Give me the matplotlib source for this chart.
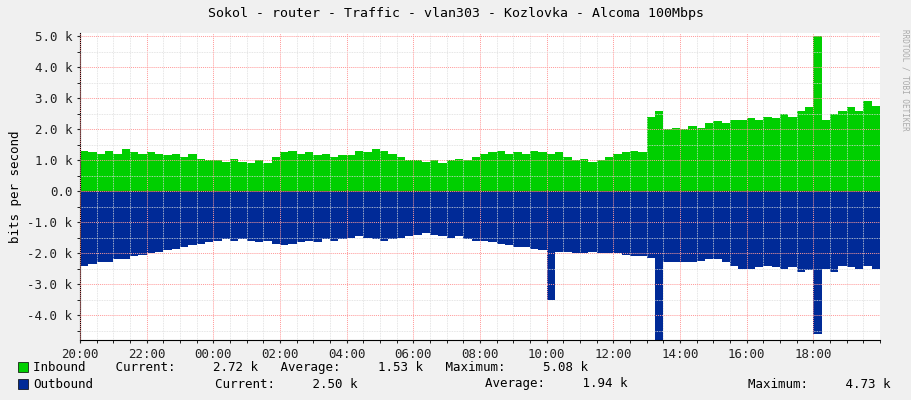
import numpy as np
import matplotlib
matplotlib.use("Agg")
import matplotlib.pyplot as plt
from matplotlib.ticker import MultipleLocator

# 15 minute samples from 20:00, in k bits per second
inbound = [1.3, 1.25, 1.2, 1.3, 1.2, 1.35, 1.25, 1.2,
           1.25, 1.2, 1.15, 1.2, 1.1, 1.2, 1.05, 1.0,
           1.0, 0.95, 1.05, 0.95, 0.9, 1.0, 0.9, 1.1,
           1.25, 1.3, 1.2, 1.25, 1.15, 1.2, 1.1, 1.15,
           1.15, 1.3, 1.25, 1.35, 1.3, 1.2, 1.1, 1.0,
           1.0, 0.95, 1.0, 0.9, 1.0, 1.05, 1.0, 1.1,
           1.2, 1.25, 1.3, 1.2, 1.25, 1.2, 1.3, 1.25,
           1.2, 1.25, 1.1, 1.0, 1.05, 0.95, 1.0, 1.1,
           1.2, 1.25, 1.3, 1.25, 2.4, 2.6, 2.0, 2.05,
           2.0, 2.1, 2.05, 2.2, 2.25, 2.2, 2.3, 2.3,
           2.35, 2.3, 2.4, 2.35, 2.5, 2.4, 2.6, 2.7,
           5.0, 2.3, 2.5, 2.6, 2.7, 2.6, 2.9, 2.75]
outbound = [-2.4, -2.35, -2.3, -2.3, -2.2, -2.2, -2.1, -2.05,
            -2.0, -1.95, -1.9, -1.85, -1.8, -1.75, -1.7, -1.65,
            -1.6, -1.55, -1.6, -1.55, -1.6, -1.65, -1.6, -1.7,
            -1.75, -1.7, -1.65, -1.6, -1.65, -1.55, -1.6, -1.55,
            -1.5, -1.45, -1.5, -1.55, -1.6, -1.55, -1.5, -1.45,
            -1.4, -1.35, -1.4, -1.45, -1.5, -1.45, -1.55, -1.6,
            -1.6, -1.65, -1.7, -1.75, -1.8, -1.8, -1.85, -1.9,
            -3.5, -1.95, -1.95, -2.0, -2.0, -1.95, -2.0, -2.0,
            -2.0, -2.05, -2.1, -2.1, -2.15, -4.8, -2.3, -2.3,
            -2.3, -2.3, -2.25, -2.2, -2.2, -2.3, -2.4, -2.5,
            -2.5, -2.45, -2.4, -2.45, -2.5, -2.45, -2.6, -2.55,
            -4.6, -2.5, -2.6, -2.4, -2.45, -2.5, -2.4, -2.5]
hour_labels = ["20:00", "22:00", "00:00", "02:00", "04:00", "06:00",
               "08:00", "10:00", "12:00", "14:00", "16:00", "18:00"]
y_labels = ["-4.0 k", "-3.0 k", "-2.0 k", "-1.0 k", "0.0", "1.0 k",
            "2.0 k", "3.0 k", "4.0 k", "5.0 k"]

GREEN = "#00CF00"
BLUE = "#002A97"
BG = "#F0F0F0"
plt.rcParams['font.family'] = 'DejaVu Sans Mono'

t = np.arange(len(inbound) + 1) * 0.25
inb = inbound + [inbound[-1]]
outb = outbound + [outbound[-1]]

fig = plt.figure(figsize=(9.11, 4.0), dpi=100, facecolor=BG)
ax = fig.add_axes([80 / 911, 60 / 400, 800 / 911, 307 / 400])
ax.set_facecolor("white")
ax.fill_between(t, 0, inb, step="post", color=GREEN, linewidth=0)
ax.fill_between(t, 0, outb, step="post", color=BLUE, linewidth=0)
ax.set_xlim(0, 24)
ax.set_ylim(-4.8, 5.1)

ax.set_xticks(np.arange(0, 24, 2))
ax.set_xticklabels(hour_labels, fontsize=9)
ax.set_yticks(np.arange(-4, 6, 1))
ax.set_yticklabels(y_labels, fontsize=9)
ax.xaxis.set_minor_locator(MultipleLocator(0.5))
ax.yaxis.set_minor_locator(MultipleLocator(0.5))
ax.grid(which="minor", color="#DDDDDD", linestyle=(0, (1, 1)), linewidth=0.6)
ax.grid(which="major", color="#FF9999", linestyle=(0, (1, 1)), linewidth=0.7)
ax.set_axisbelow(False)
ax.tick_params(length=2, colors="#222222")
for s in ["top", "right"]:
    ax.spines[s].set_visible(False)
ax.axhline(0, color="#333333", linewidth=0.8)
ax.set_ylabel("bits per second", fontsize=9)

fig.text(0.5, 0.965, "Sokol - router - Traffic - vlan303 - Kozlovka - Alcoma 100Mbps",
         ha="center", va="center", fontsize=9.5)
fig.text(0.993, 0.8, "RRDTOOL / TOBI OETIKER", rotation=270, ha="center",
         va="center", fontsize=5.5, color="#AAAAAA")

fig.patches.append(plt.Rectangle((18 / 911, 1 - 372 / 400), 10 / 911, 10 / 400,
                                 transform=fig.transFigure, facecolor=GREEN,
                                 edgecolor="black", linewidth=0.5))
fig.patches.append(plt.Rectangle((18 / 911, 1 - 389 / 400), 10 / 911, 10 / 400,
                                 transform=fig.transFigure, facecolor=BLUE,
                                 edgecolor="black", linewidth=0.5))
fig.text(33 / 911, 1 - 367 / 400,
         "Inbound    Current:     2.72 k   Average:     1.53 k   Maximum:     5.08 k",
         va="center", fontsize=9)
fig.text(33 / 911, 1 - 384 / 400, "Outbound", va="center", fontsize=9)
fig.text(215 / 911, 1 - 384 / 400, "Current:     2.50 k", va="center", fontsize=9)
fig.text(485 / 911, 1 - 384 / 400, "Average:     1.94 k", va="center", fontsize=9)
fig.text(748 / 911, 1 - 384 / 400, "Maximum:     4.73 k", va="center", fontsize=9)

fig.savefig("out.png", dpi=100, facecolor=BG)
